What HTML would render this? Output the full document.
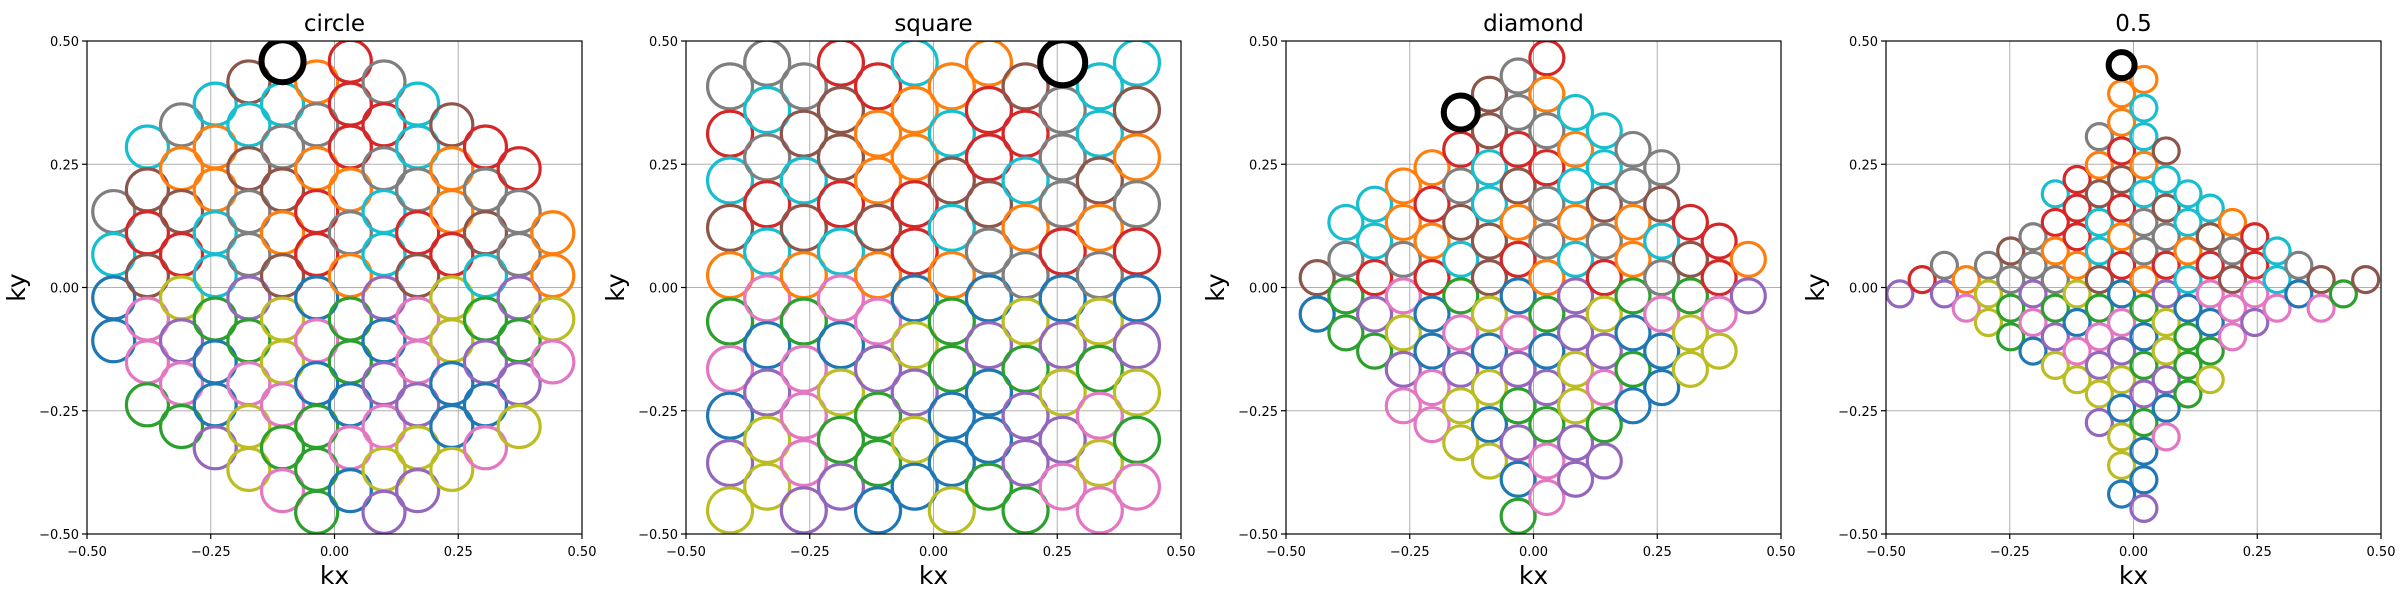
<!DOCTYPE html>
<html><head><meta charset="utf-8"><style>
html,body{margin:0;padding:0;background:#fff;}
svg{display:block;}
text{font-family:"DejaVu Sans","Liberation Sans",sans-serif;fill:#000;}
</style></head><body>
<svg id="chart" width="2400" height="600" viewBox="0 0 2400 600" xmlns="http://www.w3.org/2000/svg"></svg>
<script>
// ---- data ----
const panelTitles = ["circle", "square", "diamond", "0.5"];
const tickValues = [-0.5, -0.25, 0, 0.25, 0.5];
const tickLabels = ["\u22120.50", "\u22120.25", "0.00", "0.25", "0.50"];

// panel 1 (circle): [kx, ky list, color codes ('.' = partner-derived)]
const p1Cols = [
 [-0.446, [0.154,0.067,-0.021,-0.108], "yc.."],
 [-0.378, [0.285,0.198,0.111,0.024,-0.064,-0.151,-0.238], "cnrn..."],
 [-0.309, [0.330,0.241,0.154,0.067,-0.021,-0.108,-0.195,-0.282], "yonr...."],
 [-0.241, [0.372,0.285,0.198,0.111,0.024,-0.064,-0.151,-0.238,-0.325], "coocc...."],
 [-0.173, [0.417,0.330,0.241,0.154,0.067,-0.021,-0.108,-0.195,-0.282,-0.369], "ncnyy....."],
 [-0.105, [0.459,0.372,0.285,0.198,0.111,0.024,-0.064,-0.151,-0.238,-0.325,-0.412], "ncynon....."],
 [-0.036, [0.417,0.330,0.241,0.154,0.067,-0.021,-0.108,-0.195,-0.282,-0.369,-0.456], "oyorr......"],
 [0.032, [0.459,0.372,0.285,0.198,0.111,0.024,-0.064,-0.151,-0.238,-0.325,-0.412], "rrroyo....."],
 [0.100, [0.417,0.330,0.241,0.154,0.067,-0.021,-0.108,-0.195,-0.282,-0.369,-0.456], "yrycc......"],
 [0.168, [0.372,0.285,0.198,0.111,0.024,-0.064,-0.151,-0.238,-0.325,-0.412], "ccyrn....."],
 [0.237, [0.330,0.241,0.154,0.067,-0.021,-0.108,-0.195,-0.282,-0.369], "noor....."],
 [0.305, [0.285,0.198,0.111,0.024,-0.064,-0.151,-0.238,-0.325], "rync...."],
 [0.373, [0.241,0.154,0.067,-0.021,-0.108,-0.195,-0.282], "ryy...."],
 [0.441, [0.111,0.024,-0.064,-0.151], "oo.."]
];
const p2RowsA = [0.408,0.312,0.217,0.121,0.025,-0.069,-0.165,-0.260,-0.356,-0.452];
const p2RowsB = [0.456,0.360,0.264,0.169,0.073,-0.022,-0.117,-0.213,-0.309,-0.404];
const p2Cols = [
 [-0.411, p2RowsA, "yrcno....."],
 [-0.336, p2RowsB, "ycyrc....."],
 [-0.262, p2RowsA, "yncno....."],
 [-0.187, p2RowsB, "rnnrc....."],
 [-0.112, p2RowsA, "roono....."],
 [-0.038, p2RowsB, "coorr....."],
 [0.037, p2RowsA, "ocnco....."],
 [0.112, p2RowsB, "orrny....."],
 [0.186, p2RowsA, "nrcoy....."],
 [0.261, p2RowsB, "nyyyr....."],
 [0.336, p2RowsA, "ccnoy....."],
 [0.411, p2RowsB, "cnoyr....."]
];
const p3Cols = [
 [-0.437, [0.020,-0.054], "nb"],
 [-0.379, [0.132,0.057,-0.017,-0.092], "cygg"],
 [-0.321, [0.169,0.094,0.020,-0.054,-0.129], "ccrpg"],
 [-0.263, [0.206,0.132,0.057,-0.017,-0.092,-0.166,-0.240], "ooyklpk"],
 [-0.205, [0.243,0.169,0.094,0.020,-0.054,-0.129,-0.203,-0.278], "ororbbkk"],
 [-0.147, [0.355,0.280,0.206,0.132,0.057,-0.017,-0.092,-0.166,-0.240,-0.315], "nryncgkpll"],
 [-0.089, [0.392,0.318,0.243,0.169,0.094,0.020,-0.054,-0.129,-0.203,-0.278,-0.352], "nnccnnlblbl"],
 [-0.031, [0.429,0.355,0.280,0.206,0.132,0.057,-0.017,-0.092,-0.166,-0.240,-0.315,-0.389,-0.464], "yyrnorbkpgpbg"],
 [0.027, [0.466,0.392,0.318,0.243,0.169,0.094,0.020,-0.054,-0.129,-0.203,-0.278,-0.352,-0.426], "royryyogbpgkk"],
 [0.085, [0.355,0.280,0.206,0.132,0.057,-0.017,-0.092,-0.166,-0.240,-0.315,-0.389], "cococppllpp"],
 [0.143, [0.318,0.243,0.169,0.094,0.020,-0.054,-0.129,-0.203,-0.278,-0.352], "ccnyrlpkgp"],
 [0.201, [0.280,0.206,0.132,0.057,-0.017,-0.092,-0.166,-0.240], "yyoogbgb"],
 [0.259, [0.243,0.169,0.094,0.020,-0.054,-0.129,-0.203], "yncykbb"],
 [0.317, [0.132,0.057,-0.017,-0.092,-0.166], "rngll"],
 [0.375, [0.094,0.020,-0.054,-0.129], "rrkl"],
 [0.434, [0.057,-0.017], "op"]
];
const p4Cols = [
 [-0.472, [-0.013], "p"],
 [-0.427, [0.016], "r"],
 [-0.382, [0.045,-0.013], "yp"],
 [-0.338, [0.016,-0.042], "ok"],
 [-0.293, [0.045,-0.013,-0.071], "yll"],
 [-0.248, [0.074,0.016,-0.042,-0.100], "nygg"],
 [-0.203, [0.103,0.045,-0.013,-0.071,-0.129], "yypkb"],
 [-0.158, [0.190,0.132,0.074,0.016,-0.042,-0.100,-0.158], "croygpl"],
 [-0.114, [0.219,0.161,0.103,0.045,-0.013,-0.071,-0.129,-0.187], "rrrolbkl"],
 [-0.069, [0.306,0.248,0.190,0.132,0.074,0.016,-0.042,-0.100,-0.158,-0.216,-0.274], "yonccngkplp"],
 [-0.024, [0.451,0.393,0.335,0.277,0.219,0.161,0.103,0.045,-0.013,-0.071,-0.129,-0.187,-0.245,-0.303,-0.361,-0.419], "ooornrorbkplbllb"],
 [0.021, [0.422,0.364,0.306,0.248,0.190,0.132,0.074,0.016,-0.042,-0.100,-0.158,-0.216,-0.274,-0.332,-0.390,-0.448], "occocyyogbgpgbbp"],
 [0.066, [0.277,0.219,0.161,0.103,0.045,-0.013,-0.071,-0.129,-0.187,-0.245,-0.303], "ncnyrpllpbk"],
 [0.110, [0.190,0.132,0.074,0.016,-0.042,-0.100,-0.158,-0.216], "ccocbggg"],
 [0.155, [0.161,0.103,0.045,-0.013,-0.071,-0.129,-0.187], "cnrkbgl"],
 [0.200, [0.132,0.074,0.016,-0.042,-0.100], "oynkk"],
 [0.245, [0.103,0.045,-0.013,-0.071], "rrkp"],
 [0.290, [0.074,0.016,-0.042], "cck"],
 [0.334, [0.045,-0.013], "yb"],
 [0.379, [0.016,-0.042], "nk"],
 [0.424, [-0.013], "g"],
 [0.469, [0.016], "n"]
];
const markerKx = [-0.105, 0.261, -0.147, -0.024];
const markerKy = [0.459, 0.456, 0.355, 0.451];

// ---- style ----
const palette = {b:"#1f77b4",o:"#ff7f0e",g:"#2ca02c",r:"#d62728",p:"#9467bd",n:"#8c564b",k:"#e377c2",y:"#7f7f7f",l:"#bcbd22",c:"#17becf"};
const partner = {o:"b",r:"g",n:"p",y:"k",c:"l",b:"o",g:"r",p:"n",k:"y",l:"c"};
const panelCols = [p1Cols, p2Cols, p3Cols, p4Cols];
const panelLeft = [87, 686, 1286, 1886];
const axTop = 41, axW = 495, axH = 493;
const radii = [21, 22.5, 17, 13];
const NS = "http://www.w3.org/2000/svg";
const svg = document.getElementById("chart");
function mk(tag, attrs, parent){const e=document.createElementNS(NS,tag);for(const k in attrs)e.setAttribute(k,attrs[k]);(parent||svg).appendChild(e);return e;}

const defs = mk("defs",{});
panelCols.forEach((cols, pi) => {
  const L = panelLeft[pi];
  const sx = v => L + (v + 0.5) * axW;
  const sy = v => axTop + (0.5 - v) * axH;
  const g = mk("g", {});
  
  
  const cp = mk("clipPath", {id: "clip" + pi}, defs);
  mk("rect", {x: L, y: axTop, width: axW, height: axH}, cp);
  // grid
  const grid = mk("g", {}, g);
  
  
  tickValues.forEach(t => {
    mk("line", {x1: sx(t), x2: sx(t), y1: axTop, y2: axTop + axH, stroke: "#b0b0b0", "stroke-width": 1}, grid);
    mk("line", {x1: L, x2: L + axW, y1: sy(t), y2: sy(t), stroke: "#b0b0b0", "stroke-width": 1}, grid);
  });
  // points
  const pts = [];
  cols.forEach(c => c[1].forEach((y, i) => pts.push({x: c[0], y: y, c: c[2][i]})));
  pts.forEach(p => {
    if (p.c === ".") {
      let best = null, bd = 1e9;
      pts.forEach(q => { if (q.c !== ".") { const d = (q.x + p.x) ** 2 + (q.y + p.y) ** 2; if (d < bd) { bd = d; best = q; } } });
      p.col = best ? palette[partner[best.c]] : "#7f7f7f";
    } else p.col = palette[p.c];
  });
  const mg = mk("g", {"clip-path": "url(#clip" + pi + ")"}, g);
  
  
  pts.forEach(p => {
    const c = mk("circle", {cx: sx(p.x), cy: sy(p.y), r: radii[pi], fill: "none", stroke: p.col, "stroke-width": 3.2}, mg);
    
    
  });
  const bk = mk("circle", {cx: sx(markerKx[pi]), cy: sy(markerKy[pi]), r: radii[pi], fill: "none", stroke: "#000", "stroke-width": 6}, mg);
  
  
  // frame
  const fr = mk("rect", {x: L, y: axTop, width: axW, height: axH, fill: "none", stroke: "#000", "stroke-width": 1.2}, g);
  
  
  // ticks
  tickValues.forEach((t, i) => {
    mk("line", {x1: sx(t), x2: sx(t), y1: axTop + axH, y2: axTop + axH + 5, stroke: "#000", "stroke-width": 1.2}, g);
    mk("line", {x1: L - 5, x2: L, y1: sy(t), y2: sy(t), stroke: "#000", "stroke-width": 1.2}, g);
    const xt = mk("text", {x: sx(t), y: axTop + axH + 22, "text-anchor": "middle", "font-size": 13}, g);
    xt.textContent = tickLabels[i];
    
    
    const yt = mk("text", {x: L - 8, y: sy(t) + 5, "text-anchor": "end", "font-size": 13}, g);
    yt.textContent = tickLabels[i];
    
    
  });
  const ti = mk("text", {x: L + axW / 2, y: 31, "text-anchor": "middle", "font-size": 23}, g);
  ti.textContent = panelTitles[pi];
  
  
  const xl = mk("text", {x: L + axW / 2, y: 584, "text-anchor": "middle", "font-size": 25}, g);
  xl.textContent = "kx";
  
  
  const yx = L - 62, yy = axTop + axH / 2;
  const yl = mk("text", {x: yx, y: yy, "text-anchor": "middle", "font-size": 25, transform: "rotate(-90 " + yx + " " + yy + ")"}, g);
  yl.textContent = "ky";
  
  
});
</script>
</body></html>
